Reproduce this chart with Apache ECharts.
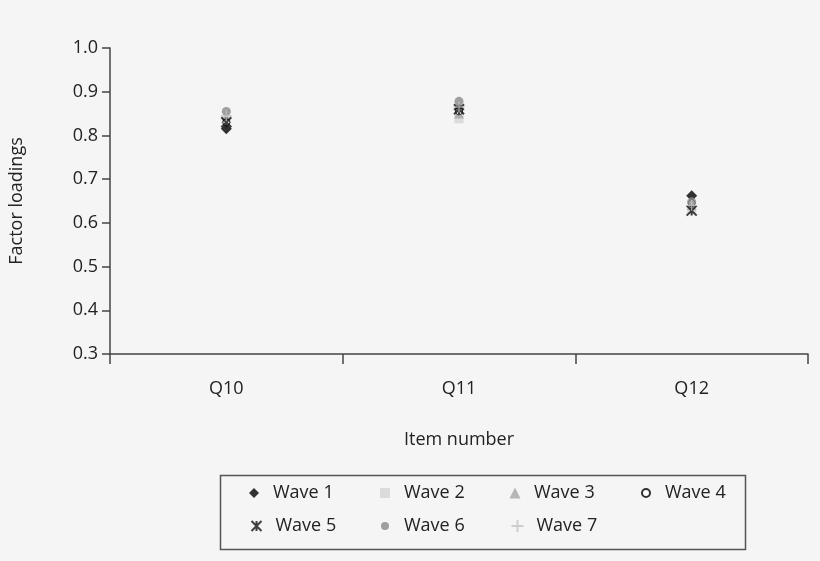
<!DOCTYPE html>
<html><head><meta charset="utf-8">
<script src="https://cdn.jsdelivr.net/npm/echarts@6/dist/echarts.min.js"></script>
<style>html,body{margin:0;padding:0;background:#f5f5f5}#c{width:820px;height:561px}</style>
</head><body><div id="c"></div>
<script>
var categories = ['Q10', 'Q11', 'Q12'];
var waveNames = ['Wave 1', 'Wave 2', 'Wave 3', 'Wave 4', 'Wave 5', 'Wave 6', 'Wave 7'];
var wave1 = [0.815, 0.860, 0.662];
var wave2 = [0.835, 0.838, 0.630];
var wave3 = [0.840, 0.850, 0.640];
var wave4 = [0.830, 0.855, 0.645];
var wave5 = [0.830, 0.860, 0.628];
var wave6 = [0.855, 0.878, 0.648];
var wave7 = [0.845, 0.865, 0.640];
var yTicks = [0.3, 0.4, 0.5, 0.6, 0.7, 0.8, 0.9, 1.0];

var FONT = 'Open Sans';
var starPath = 'path://M0,0L10,10M10,0L0,10M5,0L5,10';
var plusPath = 'path://M5,0L5,10M0,5L10,5';

var styles = [
  {symbol: 'diamond', size: 11, item: {color: '#000'}},
  {symbol: 'rect', size: 9, item: {color: '#d4d4d4'}},
  {symbol: 'triangle', size: 10, item: {color: '#a6a6a6'}},
  {symbol: 'circle', size: 7, item: {color: '#ffffff', borderColor: '#000', borderWidth: 1}},
  {symbol: starPath, size: 10, item: {color: 'none', borderColor: '#111', borderWidth: 2}},
  {symbol: 'circle', size: 9, item: {color: '#8a8a8a'}},
  {symbol: plusPath, size: 11, item: {color: 'none', borderColor: '#c4c4c4', borderWidth: 1.3}}
];
var legendSizes = [10, 10, 11, 8, 10, 8, 12];
var values = [wave1, wave2, wave3, wave4, wave5, wave6, wave7];

var series = waveNames.map(function (n, i) {
  return {
    name: n, type: 'scatter', data: values[i],
    symbol: styles[i].symbol, symbolSize: styles[i].size,
    itemStyle: styles[i].item, z: 2 + i
  };
});

var legendCenters = [[254, 493], [385, 493], [515, 493], [645, 493], [254, 526], [385, 526], [515, 526]];
var legends = waveNames.map(function (n, i) {
  var s = legendSizes[i];
  return {
    data: [n], left: legendCenters[i][0] - s / 2, top: legendCenters[i][1] - 13,
    padding: 0, height: 26,
    itemWidth: s, itemHeight: s, itemGap: 0,
    textStyle: {fontFamily: FONT, fontSize: 18, color: '#222', lineHeight: 26,
      padding: [0, 0, 0, 19 - s / 2 - 5]},
    selectedMode: false
  };
});

var chart = echarts.init(document.getElementById('c'));
chart.setOption({
  backgroundColor: '#f5f5f5',
  animation: false,
  grid: {left: 110, right: 12, top: 48, bottom: 207},
  xAxis: {
    type: 'category', data: categories, boundaryGap: true,
    name: 'Item number', nameLocation: 'middle', nameGap: 77,
    nameTextStyle: {fontFamily: FONT, fontSize: 18, color: '#222'},
    axisLine: {lineStyle: {color: '#444', width: 1.5}},
    axisTick: {show: true, length: 10, lineStyle: {color: '#444', width: 1.5}},
    axisLabel: {fontFamily: FONT, fontSize: 18, color: '#222', margin: 26},
    splitLine: {show: false}
  },
  yAxis: {
    type: 'value', min: 0.3, max: 1.0, interval: 0.1,
    name: 'Factor loadings', nameLocation: 'middle', nameGap: 84,
    nameTextStyle: {fontFamily: FONT, fontSize: 18, color: '#222'},
    axisLine: {show: true, lineStyle: {color: '#444', width: 1.5}},
    axisTick: {show: true, length: 8, lineStyle: {color: '#444', width: 1.5}},
    axisLabel: {fontFamily: FONT, fontSize: 18, color: '#222', margin: 12,
      formatter: function (v) { return v.toFixed(1); }},
    splitLine: {show: false}
  },
  legend: legends,
  graphic: [{
    type: 'rect', left: 218, top: 473, z: 100,
    shape: {width: 525, height: 74},
    style: {fill: 'none', stroke: '#555', lineWidth: 1.5}
  }],
  series: series
});
</script>
</body></html>
